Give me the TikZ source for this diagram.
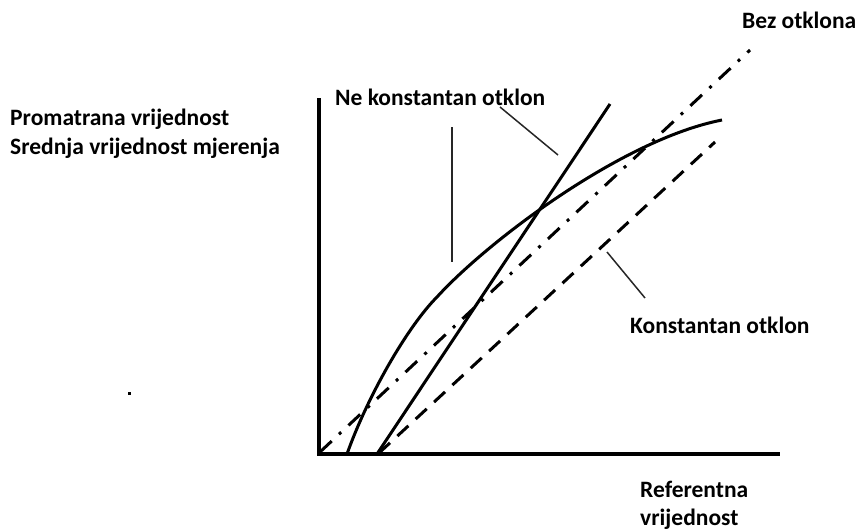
\documentclass[tikz,border=0pt]{standalone}
\usepackage{fontspec}
\setmainfont{Carlito}
\begin{document}
\begin{tikzpicture}[x=1pt,y=-1pt,
  lbl/.style={font=\fontsize{23.5}{28}\selectfont\bfseries, inner sep=0pt, anchor=base west},
  axisline/.style={line width=4.5pt},
  curveline/.style={line width=3pt},
  leader/.style={line width=1.5pt, black!85},
  dashdot/.style={line width=3pt, dash pattern=on 16pt off 10pt on 3pt off 10pt},
  dashline/.style={line width=3pt, dash pattern=on 15pt off 10pt}]
\useasboundingbox (0,0) rectangle (856,530);
% axes
\coordinate (ytop) at (319,98);
\coordinate (orig) at (319,454);
\coordinate (xend) at (780,454);
\draw[axisline] (ytop) -- (orig) -- (xend);
% no-deviation line
\coordinate (bz0) at (320,452);
\coordinate (bz1) at (750,50);
\draw[dashdot] (bz0) -- (bz1);
% constant deviation
\coordinate (k0) at (379,453);
\coordinate (k1) at (715,142);
\draw[dashline] (k0) -- (k1);
% straight non-constant
\coordinate (s0) at (377,454);
\coordinate (s1) at (610,104);
\draw[curveline] (s0) -- (s1);
% curve
\coordinate (c0) at (347,454);
\coordinate (cm) at (437,297);
\coordinate (c1) at (722,120);
\draw[curveline] (c0) .. controls (368,395) and (408,326) .. (cm)
                      .. controls (485,244) and (620,140) .. (c1);
% leaders
\coordinate (l1a) at (452,127);
\coordinate (l1b) at (452,262);
\coordinate (l2a) at (500,107);
\coordinate (l2b) at (558,155);
\coordinate (l3a) at (607,252);
\coordinate (l3b) at (645,298);
\draw[leader] (l1a) -- (l1b);
\draw[leader] (l2a) -- (l2b);
\draw[leader] (l3a) -- (l3b);
% texts
\node[lbl] (bez) at (742,28) {Bez otklona};
\node[lbl] (ne) at (335,105) {Ne konstantan otklon};
\node[lbl] (prom) at (10,125) {Promatrana vrijednost};
\node[lbl] (sred) at (10,154) {Srednja vrijednost mjerenja};
\node[lbl] (kon) at (630,333) {Konstantan otklon};
\node[lbl] (ref) at (640,497) {Referentna};
\node[lbl] (vri) at (640,525) {vrijednost};
% stray dot
\fill (127.5,391.5) rectangle (130.5,394.5);
\end{tikzpicture}
\end{document}
